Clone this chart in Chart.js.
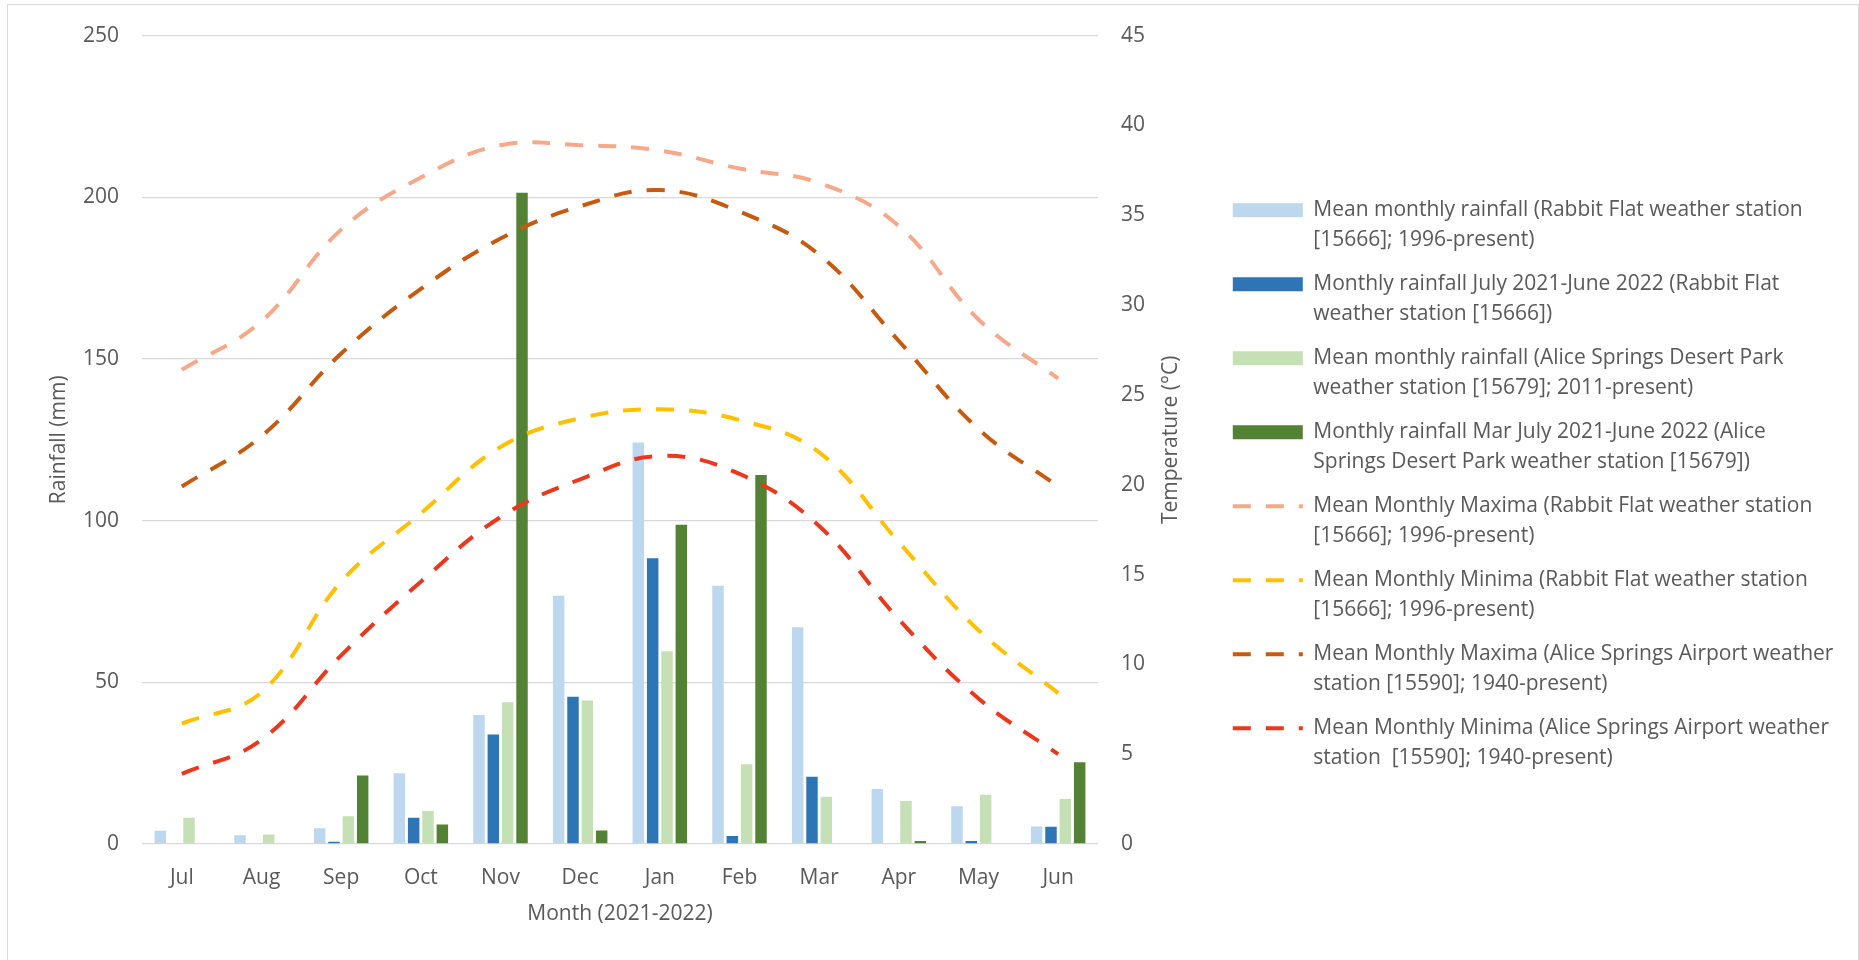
<!DOCTYPE html>
<html>
<head>
<meta charset="utf-8">
<script src="https://cdn.jsdelivr.net/npm/chart.js@4.4.0/dist/chart.umd.min.js"></script>
<style>
	html, body { margin: 0; padding: 0; background: #fff; }
	#wrap { position: relative; width: 1859px; height: 960px; }
	#frame { position: absolute; left: 7px; top: 4px; width: 1852px; height: 960px; border: 1px solid #D9D9D9; box-sizing: border-box; pointer-events: none; }
</style>
</head>
<body>
<div id="wrap">
	<canvas id="myChart"></canvas>
	<div id="frame"></div>
</div>
<script>
const months = ['Jul', 'Aug', 'Sep', 'Oct', 'Nov', 'Dec', 'Jan', 'Feb', 'Mar', 'Apr', 'May', 'Jun'];

// rainfall (mm)
const rabbitMeanRain = [4.1, 2.7, 4.9, 21.9, 39.9, 76.8, 124.2, 79.9, 67.0, 17.0, 11.7, 5.4];
const rabbitRain2122 = [0, 0, 0.7, 8.1, 33.9, 45.5, 88.4, 2.5, 20.8, 0, 0.9, 5.3];
const aliceMeanRain = [8.1, 2.9, 8.6, 10.2, 43.8, 44.4, 59.6, 24.7, 14.6, 13.3, 15.2, 13.9];
const aliceRain2122 = [0, 0, 21.2, 6.0, 201.4, 4.2, 98.7, 114.1, 0, 0.9, 0, 25.3];

// temperature (°C)
const rabbitMaxTemp = [26.4, 29.1, 34.2, 37.1, 38.9, 38.9, 38.6, 37.6, 36.8, 34.4, 29.2, 25.9];
const rabbitMinTemp = [6.7, 8.45, 14.6, 18.4, 22.1, 23.7, 24.2, 23.6, 21.8, 16.8, 11.9, 8.4];
const aliceMaxTemp = [19.9, 22.7, 27.3, 30.9, 33.7, 35.5, 36.4, 35.2, 32.8, 28.0, 23.1, 19.9];
const aliceMinTemp = [3.9, 5.8, 10.5, 14.6, 18.2, 20.3, 21.6, 20.6, 17.7, 12.5, 8.1, 5.0];

const legendLines = [
	['Mean monthly rainfall (Rabbit Flat weather station', '[15666]; 1996-present)'],
	['Monthly rainfall July 2021-June 2022 (Rabbit Flat', 'weather station [15666])'],
	['Mean monthly rainfall (Alice Springs Desert Park', 'weather station [15679]; 2011-present)'],
	['Monthly rainfall Mar July 2021-June 2022 (Alice', 'Springs Desert Park weather station [15679])'],
	['Mean Monthly Maxima (Rabbit Flat weather station', '[15666]; 1996-present)'],
	['Mean Monthly Minima (Rabbit Flat weather station', '[15666]; 1996-present)'],
	['Mean Monthly Maxima (Alice Springs Airport weather', 'station [15590]; 1940-present)'],
	['Mean Monthly Minima (Alice Springs Airport weather', 'station  [15590]; 1940-present)']
];

const tempTitle = 'Temperature (°C)';

const textColor = '#595959';
const gridColor = '#D9D9D9';
const dash = [18, 15];

Chart.defaults.font.family = "'Open Sans', sans-serif";
Chart.defaults.font.size = 21;
Chart.defaults.color = textColor;

function barSet(idx, values, color) {
	return {
		label: legendLines[idx].join(' '),
		data: values,
		backgroundColor: color,
		yAxisID: 'y',
		order: 1,
		barPercentage: 0.8,
		categoryPercentage: 0.72
	};
}

function lineSet(idx, values, color) {
	return {
		type: 'line',
		label: legendLines[idx].join(' '),
		data: values,
		borderColor: color,
		backgroundColor: color,
		borderWidth: 4,
		borderDash: dash,
		pointRadius: 0,
		tension: 0.4,
		fill: false,
		yAxisID: 'y2',
		order: 0
	};
}

// keep the legend box at a fixed width so the plot lines up
const legendWidth = {
	id: 'legendWidth',
	afterInit(chart) {
		const legend = chart.legend;
		const fit = legend.fit;
		legend.fit = function () {
			fit.call(this);
			this.width = 641;
		};
	}
};

// right axis title reads bottom-to-top like the left one
const rightTitle = {
	id: 'rightTitle',
	afterDraw(chart) {
		const s = chart.scales.y2;
		const c = chart.ctx;
		c.save();
		c.translate(s.right - 12.6 - 34, (chart.chartArea.top + chart.chartArea.bottom) / 2);
		c.rotate(-Math.PI / 2);
		c.font = "21px 'Open Sans', sans-serif";
		c.fillStyle = textColor;
		c.textAlign = 'center';
		c.textBaseline = 'middle';
		c.fillText(tempTitle, 0, 0);
		c.restore();
	}
};

const ctx = document.getElementById('myChart').getContext('2d');

new Chart(ctx, {
	type: 'bar',
	data: {
		labels: months,
		datasets: [
			barSet(0, rabbitMeanRain, '#BDD7EE'),
			barSet(1, rabbitRain2122, '#2E75B6'),
			barSet(2, aliceMeanRain, '#C5E0B4'),
			barSet(3, aliceRain2122, '#548235'),
			lineSet(4, rabbitMaxTemp, '#F5A98A'),
			lineSet(5, rabbitMinTemp, '#FFC000'),
			lineSet(6, aliceMaxTemp, '#C55A11'),
			lineSet(7, aliceMinTemp, '#E8391F')
		]
	},
	plugins: [legendWidth, rightTitle],
	options: {
		responsive: true,
		maintainAspectRatio: false,
		animation: false,
		layout: {
			padding: { left: 46, top: 33, right: 0, bottom: 33 }
		},
		plugins: {
			tooltip: { enabled: false },
			legend: {
				position: 'right',
				align: 'start',
				title: {
					display: true,
					text: '',
					padding: { top: 142, bottom: 0 },
					font: { size: 10, lineHeight: 1 }
				},
				labels: {
					usePointStyle: true,
					pointStyleWidth: 70,
					boxHeight: 14,
					padding: 14.8,
					color: textColor,
					font: { size: 21, lineHeight: '29.6px' },
					generateLabels: (chart) => chart.data.datasets.map((ds, i) => {
						const isLine = ds.type === 'line';
						return {
							text: legendLines[i],
							fillStyle: isLine ? ds.borderColor : ds.backgroundColor,
							strokeStyle: isLine ? ds.borderColor : ds.backgroundColor,
							lineWidth: isLine ? ds.borderWidth : 0,
							lineDash: isLine ? ds.borderDash : [],
							lineDashOffset: 0,
							pointStyle: isLine ? 'line' : 'rect',
							fontColor: textColor,
							hidden: false,
							datasetIndex: i
						};
					})
				}
			}
		},
		scales: {
			x: {
				grid: { display: false },
				border: { display: false },
				ticks: { padding: 13 },
				title: { display: true, text: 'Month (2021-2022)', padding: 0 },
				afterFit: (s) => { s.height = 83; }
			},
			y: {
				position: 'left',
				min: 0,
				max: 250,
				ticks: { stepSize: 50, padding: 23 },
				grid: { color: gridColor, lineWidth: 1.3, drawTicks: false },
				border: { display: false },
				title: { display: true, text: 'Rainfall (mm)', padding: 0 },
				afterFit: (s) => { s.width = 96; }
			},
			y2: {
				position: 'right',
				min: 0,
				max: 45,
				ticks: { stepSize: 5, padding: 23 },
				grid: { drawOnChartArea: false, drawTicks: false },
				border: { display: false },
				title: { display: false },
				afterFit: (s) => { s.width = 120; }
			}
		}
	}
});
</script>
</body>
</html>
